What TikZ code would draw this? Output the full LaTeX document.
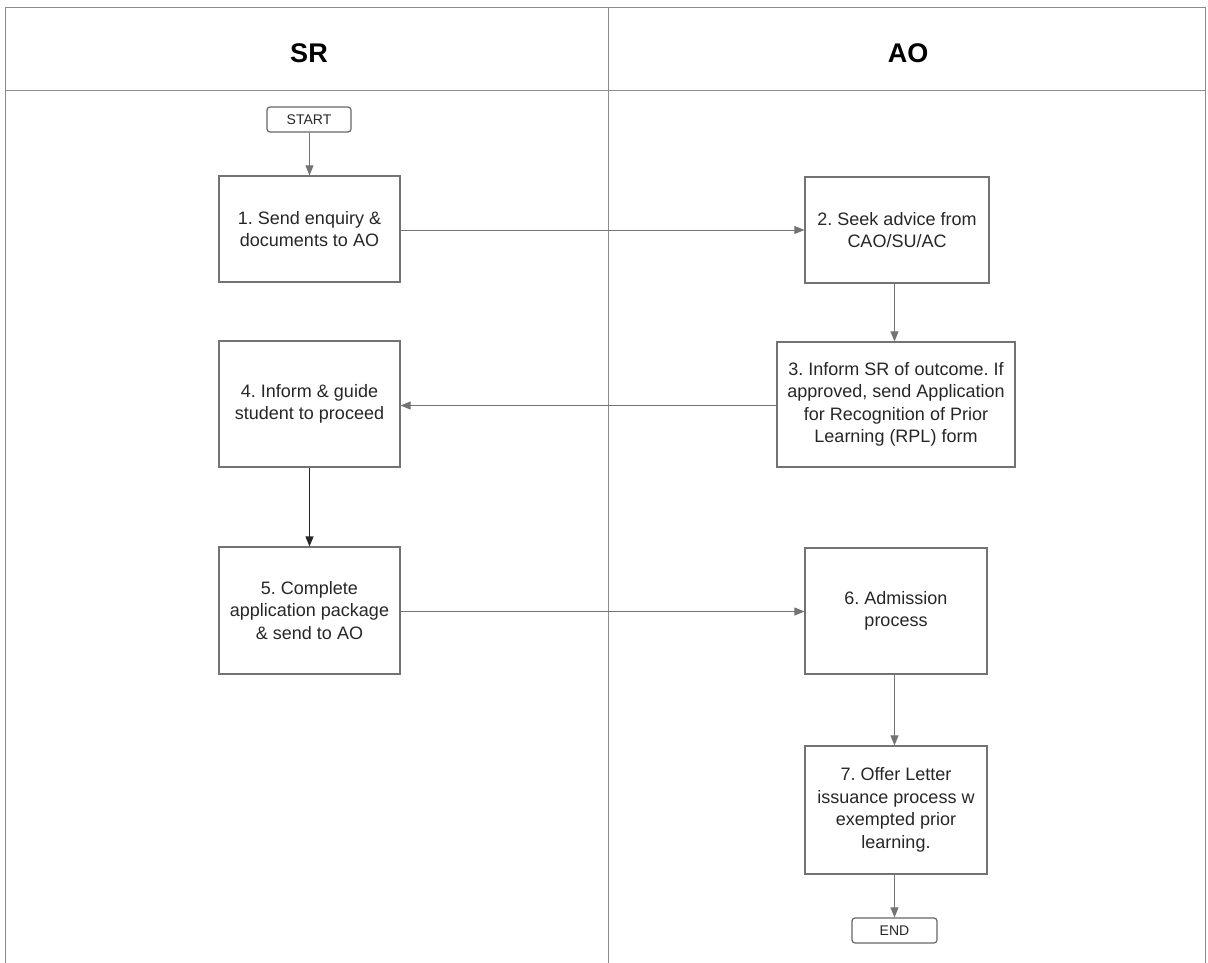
\documentclass[tikz,border=0pt]{standalone}
\usepackage{fontspec}
\setmainfont{Liberation Sans}
\frenchspacing
\usetikzlibrary{arrows.meta,positioning,calc}
\tikzset{>={Triangle[width=8pt,length=10pt]}}
\tikzset{
  stepbox/.style={draw=black!55,line width=1.2pt,align=center,inner sep=2pt,
    font=\fontsize{18}{22.5}\selectfont,text=black!85},
  termbox/.style={draw=black!60,line width=1.2pt,rounded corners=3pt,inner sep=0pt,
    font=\fontsize{14}{16}\selectfont,text=black!85},
  flow/.style={->,draw=black!55,line width=0.8pt},
  lane/.style={draw=black!45,line width=0.7pt},
}

\begin{document}
\begin{tikzpicture}[x=1pt,y=1pt,yscale=-1]
\useasboundingbox (0,0) rectangle (1208,963);

%Swimlane frame
\draw [lane] (5,963) -- (5,7) -- (1205,7) -- (1205,963);
\draw [lane] (608,7) -- (608,963);
\draw [lane] (5,90) -- (1205,90);
\node [font=\fontsize{27}{30}\selectfont\bfseries] (hSR) at (309,53) {SR};
\node [font=\fontsize{27}{30}\selectfont\bfseries] (hAO) at (908,53) {AO};

%Terminals
\node [termbox,minimum width=84pt,minimum height=25pt] (start) at (309,119.5) {START};
\node [termbox,minimum width=85pt,minimum height=25pt] (end) at (894.5,930.5) {END};

%Steps
\node [stepbox,minimum width=181pt,minimum height=106pt] (s1) at (309.5,229)
  {1. Send enquiry \&\\documents to AO};
\node [stepbox,minimum width=184pt,minimum height=106pt] (s2) at (897,230)
  {2. Seek advice from\\CAO/SU/AC};
\node [stepbox,minimum width=238pt,minimum height=125pt] (s3) at (896,404.5)
  {3. Inform SR of outcome. If\\approved, send Application\\for Recognition of Prior\\Learning (RPL) form};
\node [stepbox,minimum width=181pt,minimum height=126pt] (s4) at (309.5,404)
  {4. Inform \& guide\\student to proceed};
\node [stepbox,minimum width=181pt,minimum height=127pt] (s5) at (309.5,610.5)
  {5. Complete\\application package\\\& send to AO};
\node [stepbox,minimum width=182pt,minimum height=126pt] (s6) at (896,611)
  {6. Admission\\process};
\node [stepbox,minimum width=182pt,minimum height=128pt] (s7) at (896,810)
  {7. Offer Letter\\issuance process w\\exempted prior\\learning.};

%Connector end points
\coordinate (c1) at ($(s1.east)+(0,1)$);
\coordinate (c3) at ($(s3.west)+(0,1)$);
\coordinate (c5) at ($(s5.east)+(0,1)$);
\coordinate (c7) at ($(end.north)+(0,-50)$);

%Connectors
\draw [flow] (start.south -| s1) -- (s1.north);
\draw [flow] (c1) -- (c1 -| s2.west);
\draw [flow] (s2.south -| c7) -- (c7 |- s3.north);
\draw [flow] (c3) -- (c3 -| s4.east);
\draw [flow,draw=black!85,line width=1.2pt] (s4.south) -- (s5.north);
\draw [flow] (c5) -- (c5 -| s6.west);
\draw [flow] (s6.south -| c7) -- (c7 |- s7.north);
\draw [flow] (s7.south -| end) -- (end.north);
\end{tikzpicture}
\end{document}
